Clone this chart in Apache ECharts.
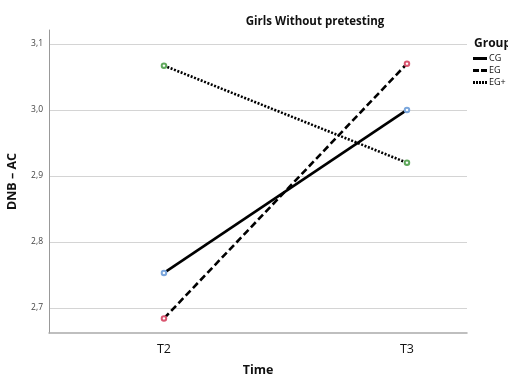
<!DOCTYPE html>
<html>
<head>
<meta charset="utf-8">
<script src="https://cdn.jsdelivr.net/npm/echarts@6/dist/echarts.min.js"></script>
<style>
    html, body { margin: 0; padding: 0; background: #fff; }
    #main { width: 508px; height: 376px; }
</style>
</head>
<body>
<div id="main"></div>
<script>
// 数据
var times = ['T2', 'T3'];
var groups = ['CG', 'EG', 'EG+'];
var cgValues = [2.753, 3.000];
var egValues = [2.684, 3.070];
var egPlusValues = [3.067, 2.920];
var yTicks = [2.7, 2.8, 2.9, 3.0, 3.1];

var markerColors = ['#7aa6dc', '#d9556f', '#5fa85c'];
var dashTypes = ['solid', [7, 3.5], [2, 1.6]];
var legendIcons = [
    'path://M0,0h14v3h-14z',
    'path://M0,0h6v3h-6z M8,0h6v3h-6z',
    'path://M0,0h2v3h-2z M3,0h2v3h-2z M6,0h2v3h-2z M9,0h2v3h-2z M12,0h2v3h-2z'
];

/**
 * @description 把数组转为 [x, y] 点
 */
function toPoints(values) {
    var pts = [];
    for (var i = 0; i < values.length; i++) {
        pts.push([i + 1, values[i]]);
    }
    return pts;
}

function loadChart() {
    var myChart = echarts.init(document.getElementById('main'));
    var font = 'Open Sans';
    var allValues = [cgValues, egValues, egPlusValues];
    var series = [];
    var legendData = [];
    for (var i = 0; i < groups.length; i++) {
        series.push({
            name: groups[i],
            type: 'line',
            data: toPoints(allValues[i]),
            symbol: 'emptyCircle',
            symbolSize: 4.5,
            itemStyle: {color: markerColors[i], borderColor: markerColors[i], borderWidth: 1},
            lineStyle: {color: '#000', width: 2.6, type: dashTypes[i]},
            z: 2
        });
        legendData.push({
            name: groups[i],
            icon: legendIcons[i],
            itemStyle: {color: '#000', borderColor: '#000', borderWidth: 0},
            lineStyle: {width: 0}
        });
    }
    var option = {
        animation: false,
        textStyle: {fontFamily: font},
        title: [{
            text: 'Girls Without pretesting',
            left: 310,
            top: 11,
            textAlign: 'center',
            textStyle: {fontSize: 11.5, fontWeight: 'bold', color: '#111', fontFamily: font}
        }, {
            text: 'Group',
            left: 469,
            top: 33,
            textStyle: {fontSize: 12, fontWeight: 'bold', color: '#111', fontFamily: font}
        }],
        legend: {
            data: legendData,
            orient: 'vertical',
            left: 468,
            top: 49,
            itemWidth: 14,
            itemHeight: 3,
            itemGap: 3,
            itemStyle: {color: '#000', borderColor: '#000', borderWidth: 0},
            lineStyle: {width: 0},
            textStyle: {fontSize: 9, color: '#111', padding: [0, 0, 0, -3], fontFamily: font}
        },
        grid: {left: 49, right: 41, top: 30, bottom: 43, containLabel: false, outerBoundsMode: 'none'},
        xAxis: {
            type: 'value',
            min: 0.527,
            max: 2.247,
            name: 'Time',
            nameLocation: 'middle',
            nameGap: 31,
            nameTextStyle: {fontSize: 12.5, fontWeight: 'bold', color: '#111', fontFamily: font},
            axisLine: {lineStyle: {color: '#aaa', width: 1.5}},
            axisTick: {show: false},
            splitLine: {show: false},
            axisLabel: {
                customValues: [1, 2],
                formatter: function (v) { return times[Math.round(v) - 1]; },
                fontSize: 12.5,
                color: '#111',
                margin: 10
            }
        },
        yAxis: {
            type: 'value',
            min: 2.662,
            max: 3.121,
            name: 'DNB – AC',
            nameLocation: 'middle',
            nameGap: 30,
            nameTextStyle: {fontSize: 12.5, fontWeight: 'bold', color: '#111', fontFamily: font},
            axisLine: {show: true, lineStyle: {color: '#999', width: 1}},
            axisTick: {show: false},
            splitLine: {show: true, showMinLine: false, showMaxLine: false, lineStyle: {color: '#d4d4d4', width: 1.2}},
            axisLabel: {
                customValues: yTicks,
                formatter: function (v) { return v.toFixed(1).replace('.', ','); },
                fontSize: 8.5,
                color: '#444',
                margin: 6
            }
        },
        series: series
    };
    myChart.setOption(option, true);
}

loadChart();
</script>
</body>
</html>
